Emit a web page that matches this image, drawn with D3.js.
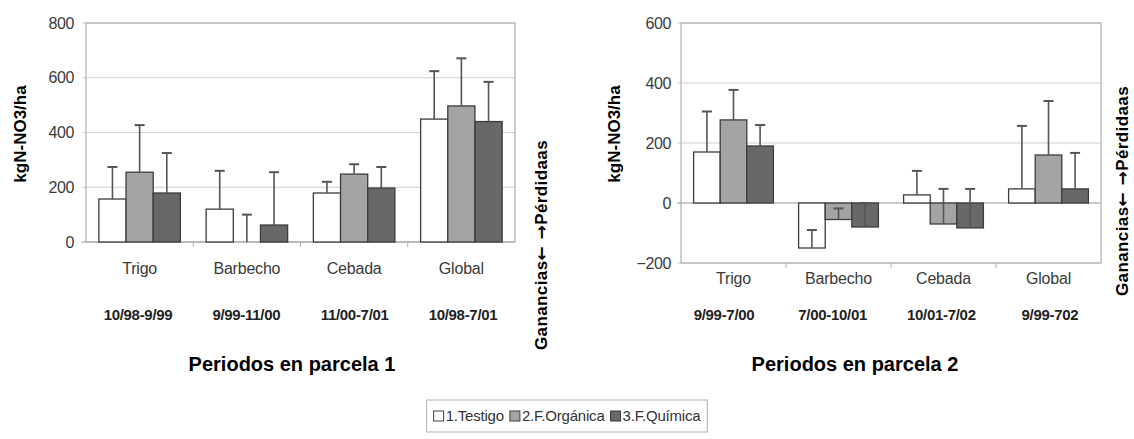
<!DOCTYPE html>
<html>
<head>
<meta charset="utf-8">
<script src="https://cdn.jsdelivr.net/npm/d3@7/dist/d3.min.js"></script>
<style>
  body { margin: 0; background: #fff; }
  svg { font-family: 'Liberation Sans', Arial, sans-serif; }
</style>
</head>
<body>
<div id="chart"></div>
<script>
// categories and periods
const categories = ['Trigo', 'Barbecho', 'Cebada', 'Global'];
const periods1 = ['10/98-9/99', '9/99-11/00', '11/00-7/01', '10/98-7/01'];
const periods2 = ['9/99-7/00', '7/00-10/01', '10/01-7/02', '9/99-702'];
const seriesNames = ['1.Testigo', '2.F.Orgánica', '3.F.Química'];

// parcela 1 (value, upper error)
const p1Testigo = [157, 120, 179, 449];
const p1TestigoErr = [117, 140, 41, 175];
const p1Organica = [255, 0, 248, 497];
const p1OrganicaErr = [172, 100, 36, 174];
const p1Quimica = [179, 62, 197, 440];
const p1QuimicaErr = [146, 193, 77, 145];

// parcela 2
const p2Testigo = [170, -150, 27, 47];
const p2TestigoErr = [135, 60, 80, 210];
const p2Organica = [277, -55, -70, 160];
const p2OrganicaErr = [100, 37, 117, 180];
const p2Quimica = [190, -80, -83, 47];
const p2QuimicaErr = [70, 80, 130, 120];

const ticks1 = [0, 200, 400, 600, 800];
const ticks2 = [-200, 0, 200, 400, 600];

const fills = ['#ffffff', '#a4a4a4', '#686868'];

class BarPanel {
  constructor(svg, config) {
    this.svg = svg;
    this.config = config;
  }

  init(values, errors) {
    const c = this.config;
    const g = this.svg.append('g');

    const xscale = d3.scaleBand()
      .domain(categories)
      .range([c.left, c.right])
      .paddingInner(0.24)
      .paddingOuter(0.12);
    const xsub = d3.scaleBand()
      .domain(seriesNames)
      .range([0, xscale.bandwidth()]);
    const yscale = d3.scaleLinear()
      .domain(c.domain)
      .range([c.bottom, c.top]);

    // gridlines
    g.append('g')
      .selectAll('line')
      .data(c.ticks)
      .enter()
      .append('line')
      .attr('x1', c.left - 4)
      .attr('x2', c.right)
      .attr('y1', d => yscale(d))
      .attr('y2', d => yscale(d))
      .style('stroke', d => d == 0 ? '#999' : '#cfcfcf')
      .style('stroke-width', 1.2);

    // frame
    g.append('rect')
      .attr('x', c.left)
      .attr('y', c.top)
      .attr('width', c.right - c.left)
      .attr('height', c.bottom - c.top)
      .style('fill', 'none')
      .style('stroke', '#b0b0b0')
      .style('stroke-width', 1.2);

    // y axis labels
    const leftAxis = d3.axisLeft(yscale)
      .tickValues(c.ticks)
      .tickSize(0)
      .tickPadding(c.left - c.labelRight);
    const yaxis = g.append('g')
      .attr('transform', `translate(${c.left}, 0)`)
      .call(leftAxis);
    yaxis.select('.domain').remove();
    yaxis.selectAll('text')
      .style('font-size', '16px')
      .style('letter-spacing', '-0.4px')
      .style('fill', '#3a3a3a');

    // small ticks below category axis
    g.append('g')
      .selectAll('line')
      .data(categories.slice(1))
      .enter()
      .append('line')
      .attr('x1', d => xscale(d) - xscale.step() * xscale.paddingInner() / 2)
      .attr('x2', d => xscale(d) - xscale.step() * xscale.paddingInner() / 2)
      .attr('y1', c.bottom)
      .attr('y2', c.bottom + 5)
      .style('stroke', '#b0b0b0');

    // bars
    const groups = g.selectAll('.series')
      .data(values)
      .enter()
      .append('g')
      .attr('class', 'series');

    groups.selectAll('rect')
      .data((d, i) => d.map((v, j) => ({ v: v, e: errors[i][j], s: i, cat: categories[j] })))
      .enter()
      .filter(d => d.v != 0)
      .append('rect')
      .attr('x', d => xscale(d.cat) + xsub(seriesNames[d.s]))
      .attr('y', d => yscale(Math.max(0, d.v)))
      .attr('width', xsub.bandwidth())
      .attr('height', d => Math.abs(yscale(d.v) - yscale(0)))
      .style('fill', d => fills[d.s])
      .style('stroke', '#3c3c3c')
      .style('stroke-width', 1.3);

    // error bars (upper only)
    const errs = groups.selectAll('.err')
      .data((d, i) => d.map((v, j) => ({ v: v, e: errors[i][j], s: i, cat: categories[j] })))
      .enter()
      .append('g')
      .attr('class', 'err')
      .attr('transform', d => `translate(${xscale(d.cat) + xsub(seriesNames[d.s]) + xsub.bandwidth() / 2}, 0)`);
    errs.append('line')
      .attr('y1', d => yscale(d.v))
      .attr('y2', d => yscale(d.v + d.e))
      .style('stroke', '#555')
      .style('stroke-width', 1.6);
    errs.append('line')
      .attr('x1', -5)
      .attr('x2', 5)
      .attr('y1', d => yscale(d.v + d.e))
      .attr('y2', d => yscale(d.v + d.e))
      .style('stroke', '#555')
      .style('stroke-width', 2);

    // category labels
    g.append('g')
      .selectAll('text')
      .data(categories)
      .enter()
      .append('text')
      .attr('x', d => xscale(d) + xscale.bandwidth() / 2)
      .attr('y', c.catY)
      .attr('text-anchor', 'middle')
      .style('font-size', '16px')
      .style('letter-spacing', '-0.2px')
      .style('fill', '#3a3a3a')
      .text(d => d);

    // period labels
    const pscale = d3.scalePoint()
      .domain(c.periods)
      .range(c.periodRange);
    g.append('g')
      .selectAll('text')
      .data(c.periods)
      .enter()
      .append('text')
      .attr('x', d => pscale(d))
      .attr('y', 320)
      .attr('text-anchor', 'middle')
      .style('font-size', '15px')
      .style('font-weight', 'bold')
      .style('letter-spacing', '-0.3px')
      .style('fill', '#222')
      .text(d => d);

    // axis titles
    g.append('text')
      .attr('transform', `translate(${c.yTitleX}, ${c.yTitleY}) rotate(-90)`)
      .attr('text-anchor', 'middle')
      .style('font-size', '17px')
      .style('font-weight', 'bold')
      .text('kgN-NO3/ha');

    g.append('text')
      .attr('x', c.titleX)
      .attr('y', 371)
      .attr('text-anchor', 'middle')
      .style('font-size', '20px')
      .style('font-weight', 'bold')
      .text(c.title);

    const side = g.append('text')
      .attr('transform', `translate(${c.sideX}, ${c.sideY}) rotate(-90)`)
      .attr('text-anchor', 'middle')
      .style('font-size', '17px')
      .style('font-weight', 'bold')
      .style('letter-spacing', '0.4px');
    side.append('tspan').text('Ganancias');
    side.append('tspan').style('font-family', 'DejaVu Sans').text('\u2190 \u2192');
    side.append('tspan').text('Pérdidaas');
  }
}

const svg = d3.select('#chart')
  .append('svg')
  .attr('width', 1134)
  .attr('height', 439);

new BarPanel(svg, {
  left: 86, right: 515, top: 23, bottom: 242,
  domain: [0, 800], ticks: ticks1, labelRight: 74,
  catY: 274, periods: periods1, periodRange: [138, 463],
  yTitleX: 26, yTitleY: 134, title: 'Periodos en parcela 1', titleX: 292,
  sideX: 547, sideY: 245
}).init([p1Testigo, p1Organica, p1Quimica], [p1TestigoErr, p1OrganicaErr, p1QuimicaErr]);

new BarPanel(svg, {
  left: 681, right: 1101, top: 23, bottom: 263,
  domain: [-200, 600], ticks: ticks2, labelRight: 671,
  catY: 284, periods: periods2, periodRange: [724, 1050],
  yTitleX: 620, yTitleY: 134, title: 'Periodos en parcela 2', titleX: 855,
  sideX: 1128, sideY: 191
}).init([p2Testigo, p2Organica, p2Quimica], [p2TestigoErr, p2OrganicaErr, p2QuimicaErr]);

// legend
const legend = svg.append('g');
const legendBox = legend.append('rect')
  .attr('y', 400)
  .attr('height', 32)
  .style('fill', '#fff')
  .style('stroke', '#b0b0b0');
let lx = 0;
const items = legend.append('g');
seriesNames.forEach((name, i) => {
  const item = items.append('g').attr('transform', `translate(${lx}, 0)`);
  item.append('rect')
    .attr('x', 0)
    .attr('y', 411)
    .attr('width', 10)
    .attr('height', 10)
    .style('fill', fills[i])
    .style('stroke', '#3c3c3c');
  const t = item.append('text')
    .attr('x', 12)
    .attr('y', 421)
    .style('font-size', '15px')
    .style('letter-spacing', '-0.2px')
    .style('fill', '#333')
    .text(name);
  lx += 12 + t.node().getComputedTextLength() + 6;
});
const legendWidth = lx - 6 + 14;
const legendLeft = 567 - legendWidth / 2;
items.attr('transform', `translate(${legendLeft + 7}, 0)`);
legendBox.attr('x', legendLeft).attr('width', legendWidth);
</script>
</body>
</html>
